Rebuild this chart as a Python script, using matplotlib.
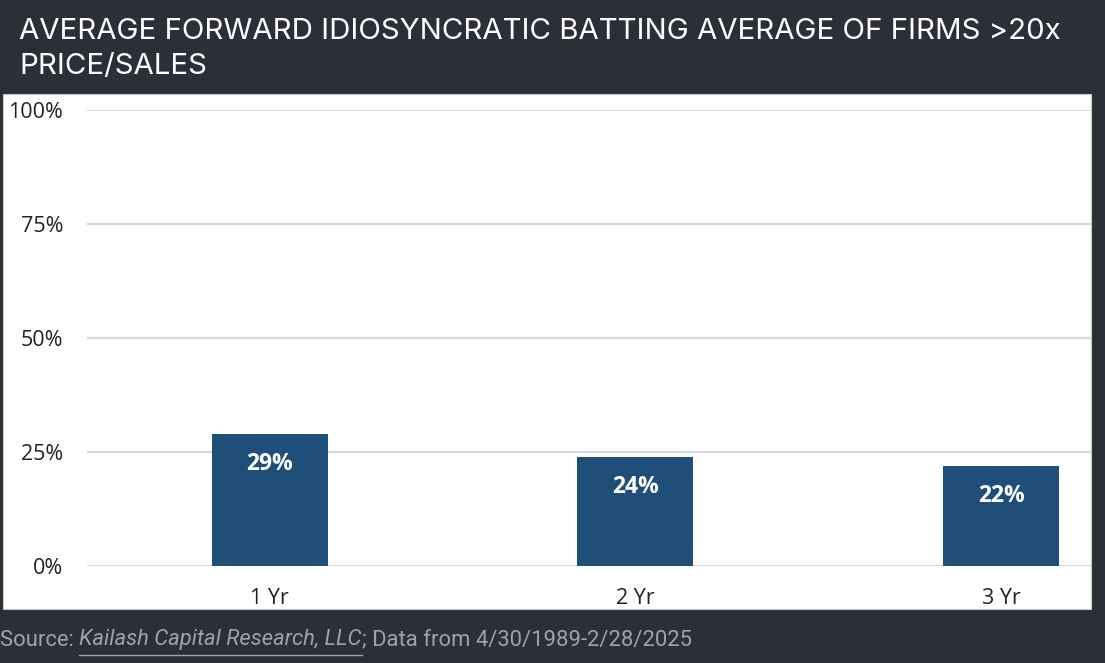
import matplotlib
matplotlib.use('Agg')
import matplotlib.pyplot as plt
from matplotlib.patches import Rectangle
from matplotlib.lines import Line2D

# data
categories = ['1 Yr', '2 Yr', '3 Yr']
values = [0.29, 0.24, 0.22]
bar_labels = ['29%', '24%', '22%']
yticks = [0, 0.25, 0.5, 0.75, 1.0]
ytick_labels = ['0%', '25%', '50%', '75%', '100%']

title = 'AVERAGE FORWARD IDIOSYNCRATIC BATTING AVERAGE OF FIRMS >20x\nPRICE/SALES'

W, H = 1105, 663
bg = '#2c2f38'
bar_color = '#1f4e79'

fig = plt.figure(figsize=(W / 100, H / 100), dpi=100, facecolor=bg)

# white chart panel
fig.patches.append(Rectangle((3 / W, 1 - 609 / H), 1088 / W, 515 / H,
                             transform=fig.transFigure, facecolor='white',
                             edgecolor='#c8c8c8', lw=0.8, zorder=-5))

ax = fig.add_axes([87 / W, 1 - 566 / H, (1091 - 87) / W, 456 / H])
ax.set_facecolor('none')

x = list(range(len(categories)))
ax.bar(x, values, width=0.317, color=bar_color, zorder=3)
for xi, v, lab in zip(x, values, bar_labels):
    ax.text(xi, v - 0.066, lab, ha='center', va='center', color='white',
            fontsize=16.5, fontweight='bold', family='Open Sans', zorder=4)

for t in yticks:
    ax.axhline(t, color='#d9d9d9', lw=1.5, zorder=1)

ax.set_xlim(-0.5, 2.246)
ax.set_ylim(0, 1)
ax.set_yticks(yticks)
ax.set_yticklabels(ytick_labels, family='Open Sans', fontsize=15.5, color='#222222')
ax.set_xticks(x)
ax.set_xticklabels(categories, family='Open Sans', fontsize=15.5, color='#222222')
ax.tick_params(axis='both', length=0)
ax.tick_params(axis='y', pad=17)
ax.tick_params(axis='x', pad=16)
for s in ax.spines.values():
    s.set_visible(False)

# title
fig.text(19 / W, 1 - 18 / H, title, ha='left', va='top', color='white',
         fontsize=21.2, family='Inter', linespacing=1.4)

# source line with underlined link
fig.canvas.draw()
renderer = fig.canvas.get_renderer()
src_y = 1 - 640 / H
grey = '#9ea2aa'
fs = 15.8
t1 = fig.text(0, src_y, 'Source: ', ha='left', va='center', color=grey,
              fontsize=fs, family='Roboto')
bb1 = t1.get_window_extent(renderer)
t2 = fig.text(bb1.x1 / W, src_y, 'Kailash Capital Research, LLC', ha='left',
              va='center', color=grey, fontsize=fs, family='Roboto', style='italic')
bb2 = t2.get_window_extent(renderer)
fig.add_artist(Line2D([bb2.x0 / W, bb2.x1 / W], [1 - 655 / H, 1 - 655 / H],
                      transform=fig.transFigure, color=grey, lw=1))
fig.text(bb2.x1 / W, src_y, '; Data from 4/30/1989-2/28/2025', ha='left',
         va='center', color=grey, fontsize=fs, family='Roboto')

fig.savefig('out.png', dpi=100, facecolor=bg)
